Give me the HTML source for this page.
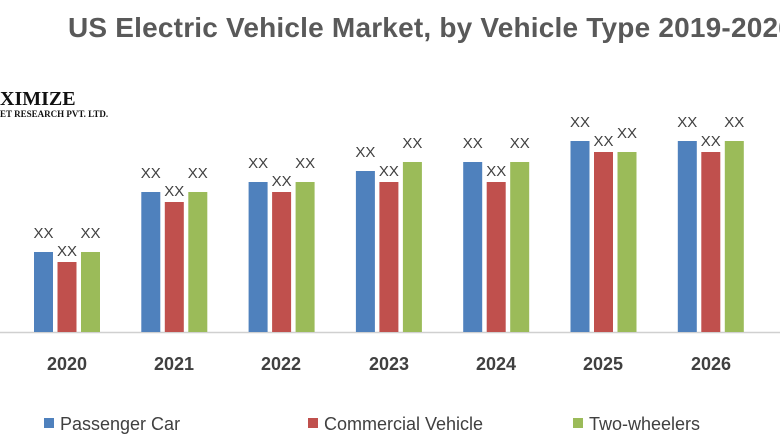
<!DOCTYPE html>
<html><head><meta charset="utf-8"><style>
body{margin:0;width:780px;height:440px;background:#fff;overflow:hidden;position:relative;font-family:"Liberation Sans",sans-serif}
.t{position:absolute;white-space:nowrap}
</style></head><body>
<div class="t" style="left:68px;top:12px;font-size:28px;font-weight:bold;color:#595959;letter-spacing:0.2px">US Electric Vehicle Market, by Vehicle Type 2019-2026</div>
<div class="t" style="left:0;top:88px;font-family:'Liberation Serif',serif;font-weight:bold;font-size:20px;color:#111">XIMIZE</div>
<div class="t" style="left:0;top:109px;font-family:'Liberation Serif',serif;font-weight:bold;font-size:9px;color:#111">ET RESEARCH PVT. LTD.</div>
<svg width="780" height="440" style="position:absolute;left:0;top:0" font-family="Liberation Sans, sans-serif">
<line x1="0" y1="332.5" x2="780" y2="332.5" stroke="#d0d0d0" stroke-width="1.5"/>
<g id="bars"></g>
<g font-size="18" fill="#404040" text-anchor="middle" font-weight="bold">
<text x="67" y="370">2020</text><text x="174" y="370">2021</text><text x="281" y="370">2022</text><text x="389" y="370">2023</text><text x="496" y="370">2024</text><text x="603" y="370">2025</text><text x="711" y="370">2026</text>
</g>
<rect x="44" y="418" width="10" height="10" fill="#4f81bd"/><text x="60" y="430" font-size="18" fill="#404040">Passenger Car</text>
<rect x="308" y="418" width="10" height="10" fill="#c0504d"/><text x="324" y="430" font-size="18" fill="#404040">Commercial Vehicle</text>
<rect x="573" y="418" width="10" height="10" fill="#9bbb59"/><text x="589" y="430" font-size="18" fill="#404040">Two-wheelers</text>
</svg>
<script>
var tops=[[252,262,252],[192,202,192],[182,192,182],[171,182,162],[162,182,162],[141,152,152],[141,152,141]];
var cols=["#4f81bd","#c0504d","#9bbb59"];var g=document.getElementById("bars");var s="";
for(var i=0;i<7;i++){var c=67+i*107.3;for(var j=0;j<3;j++){var x=c-33+j*23.5;var y=tops[i][j];
s+='<rect x="'+x+'" y="'+y+'" width="19" height="'+(332-y)+'" fill="'+cols[j]+'"/>';
s+='<text x="'+(x+9.5)+'" y="'+(y-14+(j==1?8:0))+'" font-size="15" fill="#404040" text-anchor="middle">XX</text>';}}
g.innerHTML=s;
</script>
</body></html>
